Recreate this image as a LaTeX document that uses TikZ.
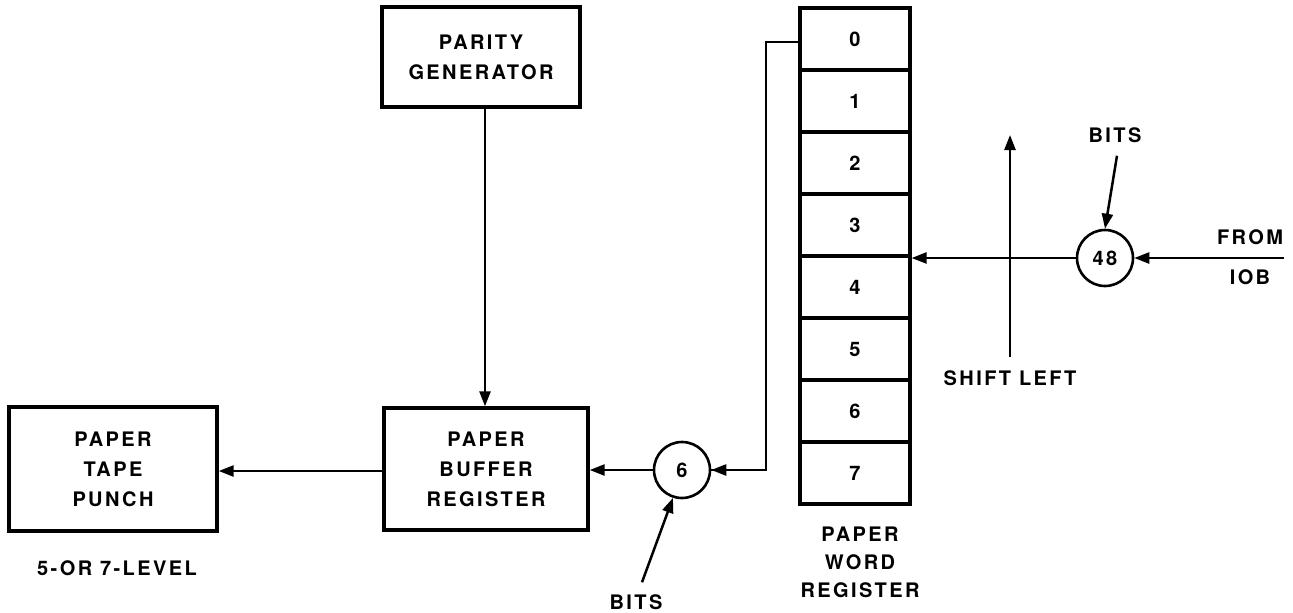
\documentclass[tikz,border=0pt]{standalone}
\usepackage{fontspec}
\setmainfont{TeX Gyre Heros}[LetterSpace=12]
\usetikzlibrary{arrows.meta,calc}
\tikzset{
  lab/.style={font=\fontsize{20}{30}\selectfont\bfseries, align=center, inner sep=0pt},
  blk/.style={draw, line width=3.4pt, inner sep=0pt, lab},
  cell/.style={draw, line width=3.2pt, minimum width=110pt, minimum height=62pt, inner sep=0pt, lab},
  ring/.style={draw, circle, line width=2.6pt, minimum size=56pt, inner sep=0pt, lab},
  conn/.style={line width=2.5pt},
  arr/.style={conn, -{Triangle[length=15pt,width=11pt]}}
}
\begin{document}
\begin{tikzpicture}[x=1pt,y=-1pt]
\useasboundingbox (0,0) rectangle (1293,613);
% blocks
\node[blk, minimum width=198pt, minimum height=100pt] (parity) at (481,57) {PARITY\\GENERATOR};
\node[blk, minimum width=204pt, minimum height=122pt] (buffer) at (486,469) {PAPER\\BUFFER\\REGISTER};
\node[blk, minimum width=208pt, minimum height=124pt] (punch) at (113,469) {PAPER\\TAPE\\PUNCH};
\node[lab] (level) at (117,568) {5-OR 7-LEVEL};
% register
\foreach \i in {0,...,7} {
  \node[cell] (reg\i) at (855,{39+62*\i}) {\i};
}
\node[lab] (pwr) at (860,562) {PAPER\\[-2pt]WORD\\[-2pt]REGISTER};
% circles
\node[ring] (c6) at (682,470) {6};
\node[ring] (c48) at (1105,258) {48};
% labels
\node[lab] (bitsB) at (636,602) {BITS};
\node[lab] (bitsT) at (1115,135) {BITS};
\node[lab] (shift) at (1010,378) {SHIFT LEFT};
\node[lab] (from) at (1250,237) {FROM};
\node[lab] (iob) at (1250,277) {IOB};
% coordinates
\coordinate (feed) at (766,42);
\coordinate (inR) at (1284,258);
\coordinate (shA) at (1010,357);
\coordinate (shB) at (1010,135);
% connectors
\draw[arr] (485,107 |- parity.south) -- (485,408 |- buffer.north);
\draw[arr] (buffer.west |- 0,471) -- (punch.east |- 0,471);
\draw[arr] (c6.west) -- (c6.west -| buffer.east);
\draw[conn] (reg0.west |- feed) -- (feed) |- (c6.east);
\draw[arr] (feed |- c6.east) -- (c6.east);
\draw[arr] (c48.west) -- (c48.west -| reg3.east);
\draw[arr] (inR) -- (c48.east);
\draw[arr] (shA) -- (shB);
\draw[arr] ($(bitsT.south)+(2,13)$) -- (c48.north);
\draw[arr] ($(bitsB.north)+(6,-12)$) -- (c6.252);
\end{tikzpicture}
\end{document}
